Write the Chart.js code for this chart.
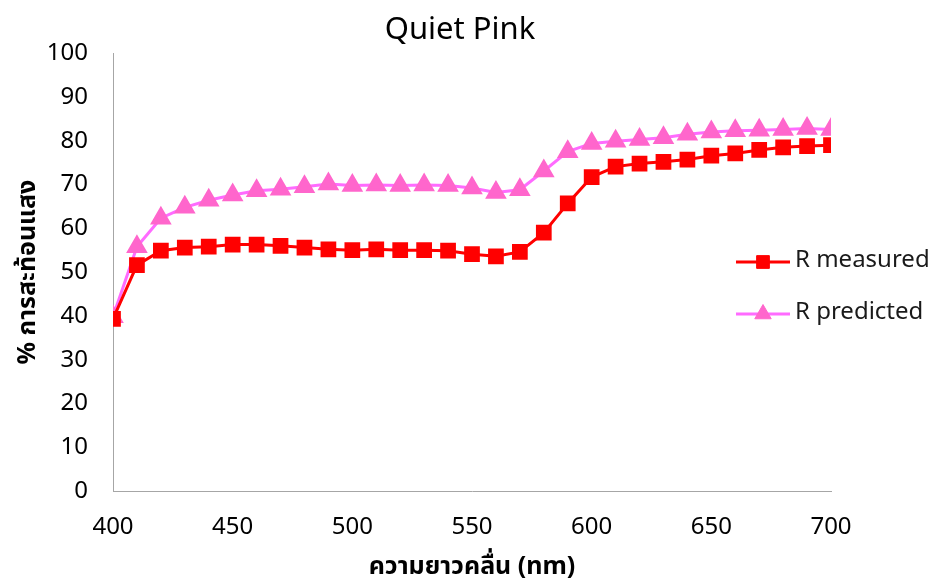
<!DOCTYPE html>
<html>
<head>
<meta charset="utf-8">
<script src="https://cdn.jsdelivr.net/npm/chart.js@4/dist/chart.umd.min.js"></script>
<style>
    html, body { margin: 0; padding: 0; background: #fff; }
    #wrap { width: 932px; height: 583px; }
</style>
</head>
<body>
<div id="wrap"><canvas id="grafica"></canvas></div>
<script>
// ========== Datos ==========

const longitudes = [400, 410, 420, 430, 440, 450, 460, 470, 480, 490, 500,
                    510, 520, 530, 540, 550, 560, 570, 580, 590, 600,
                    610, 620, 630, 640, 650, 660, 670, 680, 690, 700];

const rMedido = [39.3, 51.6, 54.9, 55.6, 55.8, 56.3, 56.3, 56.0, 55.6, 55.2, 55.0,
                 55.2, 55.0, 55.0, 54.9, 54.1, 53.6, 54.6, 59.0, 65.7, 71.7,
                 74.1, 74.8, 75.2, 75.7, 76.6, 77.1, 77.9, 78.5, 78.8, 79.0];

const rPredicho = [39.8, 55.8, 62.3, 64.8, 66.4, 67.6, 68.6, 68.9, 69.5, 70.1, 69.8,
                   69.9, 69.8, 69.9, 69.8, 69.2, 68.2, 68.8, 73.1, 77.5, 79.4,
                   79.9, 80.3, 80.7, 81.5, 82.0, 82.3, 82.4, 82.6, 82.8, 82.6];

const etiquetasSerie = ['R measured', 'R predicted'];
const titulo  = 'Quiet Pink';
const tituloX = 'ความยาวคลื่น (nm)';
const tituloY = '% การสะท้อนแสง';

const FUENTE = '"Noto Sans", "Noto Sans Thai", "Open Sans", sans-serif';

// ========== Leyenda dibujada a mano (se superpone al área del gráfico) ==========

const leyendaManual = {
    id: 'leyendaManual',
    afterDraw(chart) {
        const ctx = chart.ctx;
        const filas = [262, 314];
        chart.data.datasets.forEach((ds, i) => {
            const y = filas[i];
            ctx.save();
            ctx.strokeStyle = ds.borderColor;
            ctx.lineWidth = ds.borderWidth;
            ctx.beginPath();
            ctx.moveTo(736, y);
            ctx.lineTo(790, y);
            ctx.stroke();
            ctx.fillStyle = ds.pointBackgroundColor;
            ctx.strokeStyle = ds.pointBorderColor;
            ctx.lineWidth = 1;
            Chart.helpers.drawPoint(ctx, { pointStyle: ds.pointStyle, radius: ds.pointRadius, rotation: 0, borderWidth: 1 }, 763, y);
            ctx.fillStyle = '#1a1a1a';
            ctx.font = `24px ${FUENTE}`;
            ctx.textBaseline = 'middle';
            ctx.fillText(ds.label, 795, y - 2);
            ctx.restore();
        });
    }
};

// ========== Gráfica ==========

new Chart(document.getElementById('grafica'), {
    type: 'line',
    data: {
        datasets: [
            {
                label: etiquetasSerie[0],
                data: longitudes.map((x, i) => ({ x, y: rMedido[i] })),
                borderColor: '#ff0000',
                borderWidth: 3,
                pointStyle: 'rect',
                pointRadius: 9,
                pointBackgroundColor: '#ff0000',
                pointBorderColor: '#ff0000',
                tension: 0,
            },
            {
                label: etiquetasSerie[1],
                data: longitudes.map((x, i) => ({ x, y: rPredicho[i] })),
                borderColor: '#ff6bff',
                borderWidth: 3,
                pointStyle: 'triangle',
                pointRadius: 9.5,
                pointBackgroundColor: '#ff66cc',
                pointBorderColor: '#ff66cc',
                tension: 0,
            },
        ]
    },
    options: {
        responsive: true,
        maintainAspectRatio: false,
        animation: false,
        layout: { padding: { left: 0, right: 12, top: 0, bottom: 0 } },
        plugins: {
            legend: { display: false },
            tooltip: { enabled: false },
            title: {
                display: true,
                text: titulo,
                color: '#000',
                font: { family: FUENTE, size: 31, weight: 'normal' },
                padding: { top: 12, bottom: 4 },
            },
        },
        scales: {
            x: {
                type: 'linear',
                min: 400,
                max: 700,
                grid: { display: false, drawTicks: false },
                border: { display: true, color: '#a6a6a6', width: 1 },
                ticks: {
                    stepSize: 50,
                    color: '#000',
                    padding: 22,
                    maxRotation: 0,
                    font: { family: FUENTE, size: 24 },
                },
                title: {
                    display: true,
                    text: tituloX,
                    color: '#000',
                    font: { family: FUENTE, size: 25, weight: 'bold' },
                    padding: { top: 0, bottom: 1 },
                },
                afterFit: s => { s.height = 92; },
            },
            y: {
                min: 0,
                max: 100,
                grid: { display: false, drawTicks: false },
                border: { display: true, color: '#a6a6a6', width: 1 },
                ticks: {
                    stepSize: 10,
                    color: '#000',
                    padding: 25,
                    font: { family: FUENTE, size: 24 },
                },
                title: {
                    display: true,
                    text: tituloY,
                    color: '#000',
                    font: { family: FUENTE, size: 25, weight: 'bold' },
                    padding: { top: 13, bottom: 0 },
                },
                afterFit: s => { s.width = 113; },
            },
            // eje vacío a la derecha: deja el hueco donde va la leyenda
            derecha: {
                position: 'right',
                min: 0,
                max: 100,
                grid: { display: false, drawTicks: false },
                border: { display: false },
                ticks: { display: false },
                afterFit: s => { s.width = 89; },
            },
        },
    },
    plugins: [leyendaManual],
});
</script>
</body>
</html>
